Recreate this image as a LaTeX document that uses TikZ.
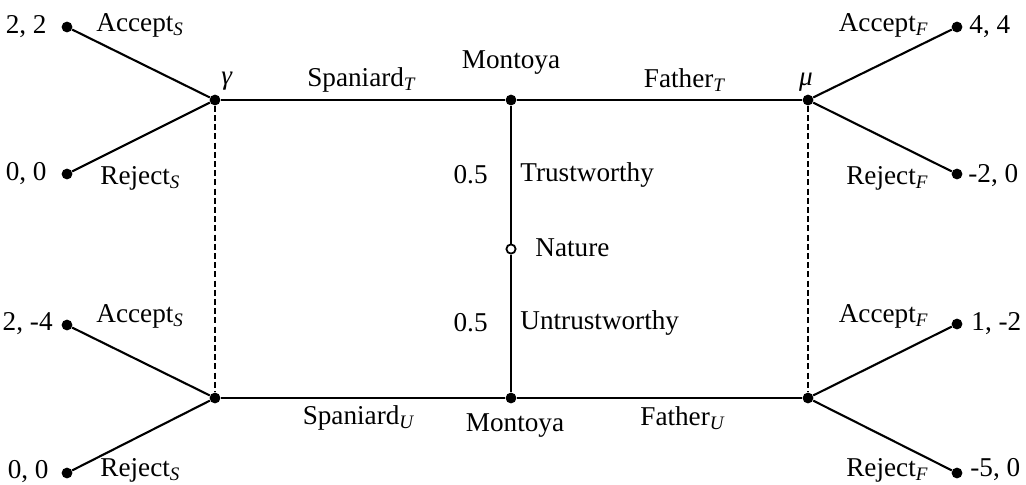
\documentclass[tikz,border=0pt]{standalone}
\usepackage{fontspec}
\setmainfont{Liberation Serif}
\begin{document}
\begin{tikzpicture}[x=0.5pt,y=-0.5pt,
  font=\fontsize{13.6}{15}\selectfont,
  dot/.style={circle,fill=black,inner sep=0pt,minimum size=5.4pt},
  chance/.style={circle,draw=black,fill=white,line width=0.9pt,inner sep=0pt,minimum size=4.6pt},
  edge/.style={line width=1.05pt},
  infoset/.style={line width=1.2pt,dash pattern=on 3pt off 1.6pt},
  lbl/.style={inner sep=0pt}]
\useasboundingbox (0,0) rectangle (1026,484);

% decision and chance nodes
\node[dot] (g)  at (215,100) {};
\node[dot] (mt) at (511,100) {};
\node[dot] (m)  at (808,100) {};
\node[chance] (nat) at (511,249) {};
\node[dot] (gb) at (215,398) {};
\node[dot] (mb) at (511,398) {};
\node[dot] (mu) at (808,398) {};

% terminal nodes
\node[dot] (l1) at (67,27) {};
\node[dot] (l2) at (67,174) {};
\node[dot] (l3) at (67,325) {};
\node[dot] (l4) at (67,473) {};
\node[dot] (r1) at (957,27) {};
\node[dot] (r2) at (957,174) {};
\node[dot] (r3) at (957,324) {};
\node[dot] (r4) at (957,473) {};

% moves
\draw[edge] (nat) -- (mt);
\draw[edge] (nat) -- (mb);
\draw[edge] (mt) -- (g);
\draw[edge] (mt) -- (m);
\draw[edge] (mb) -- (gb);
\draw[edge] (mb) -- (mu);
\draw[edge] (g) -- (l1);
\draw[edge] (g) -- (l2);
\draw[edge] (gb) -- (l3);
\draw[edge] (gb) -- (l4);
\draw[edge] (m) -- (r1);
\draw[edge] (m) -- (r2);
\draw[edge] (mu) -- (r3);
\draw[edge] (mu) -- (r4);

% information sets
\draw[infoset] (g) -- (gb);
\draw[infoset] (m) -- (mu);

% payoffs
\node[lbl,anchor=east] (p1) at (47,27) {2, 2};
\node[lbl,anchor=east] (p2) at (47,174) {0, 0};
\node[lbl,anchor=east] (p3) at (53,324) {2, -4};
\node[lbl,anchor=east] (p4) at (49,472) {0, 0};
\node[lbl,anchor=west] (q1) at (969,27) {4, 4};
\node[lbl,anchor=west] (q2) at (968,176) {-2, 0};
\node[lbl,anchor=west] (q3) at (971,324) {1, -2};
\node[lbl,anchor=west] (q4) at (970,470) {-5, 0};

% action labels
\node[lbl,anchor=west] (a1) at (96,25) {Accept\textsubscript{\textit{S}}};
\node[lbl,anchor=west] (a2) at (100,178) {Reject\textsubscript{\textit{S}}};
\node[lbl,anchor=west] (a3) at (96,316) {Accept\textsubscript{\textit{S}}};
\node[lbl,anchor=west] (a4) at (100,470) {Reject\textsubscript{\textit{S}}};
\node[lbl,anchor=east] (b1) at (929,25) {Accept\textsubscript{\textit{F}}};
\node[lbl,anchor=east] (b2) at (929,178) {Reject\textsubscript{\textit{F}}};
\node[lbl,anchor=east] (b3) at (929,316) {Accept\textsubscript{\textit{F}}};
\node[lbl,anchor=east] (b4) at (929,470) {Reject\textsubscript{\textit{F}}};

\node[lbl] (sT) at (362,80) {Spaniard\textsubscript{\textit{T}}};
\node[lbl] (fT) at (685,80) {Father\textsubscript{\textit{T}}};
\node[lbl] (sU) at (359,418) {Spaniard\textsubscript{\textit{U}}};
\node[lbl] (fU) at (683,418) {Father\textsubscript{\textit{U}}};

% player and chance labels
\node[lbl] (gl) at (227,81) {\textit{γ}};
\node[lbl] (ml) at (806,82) {\textit{μ}};
\node[lbl] (mtl) at (511,63) {Montoya};
\node[lbl] (mbl) at (515,426) {Montoya};
\node[lbl,anchor=west] (natl) at (535,248) {Nature};
\node[lbl,anchor=east] (pt) at (488,175) {0.5};
\node[lbl,anchor=west] (tw) at (520,175) {Trustworthy};
\node[lbl,anchor=east] (pu) at (488,323) {0.5};
\node[lbl,anchor=west] (uw) at (520,323) {Untrustworthy};
\end{tikzpicture}
\end{document}
